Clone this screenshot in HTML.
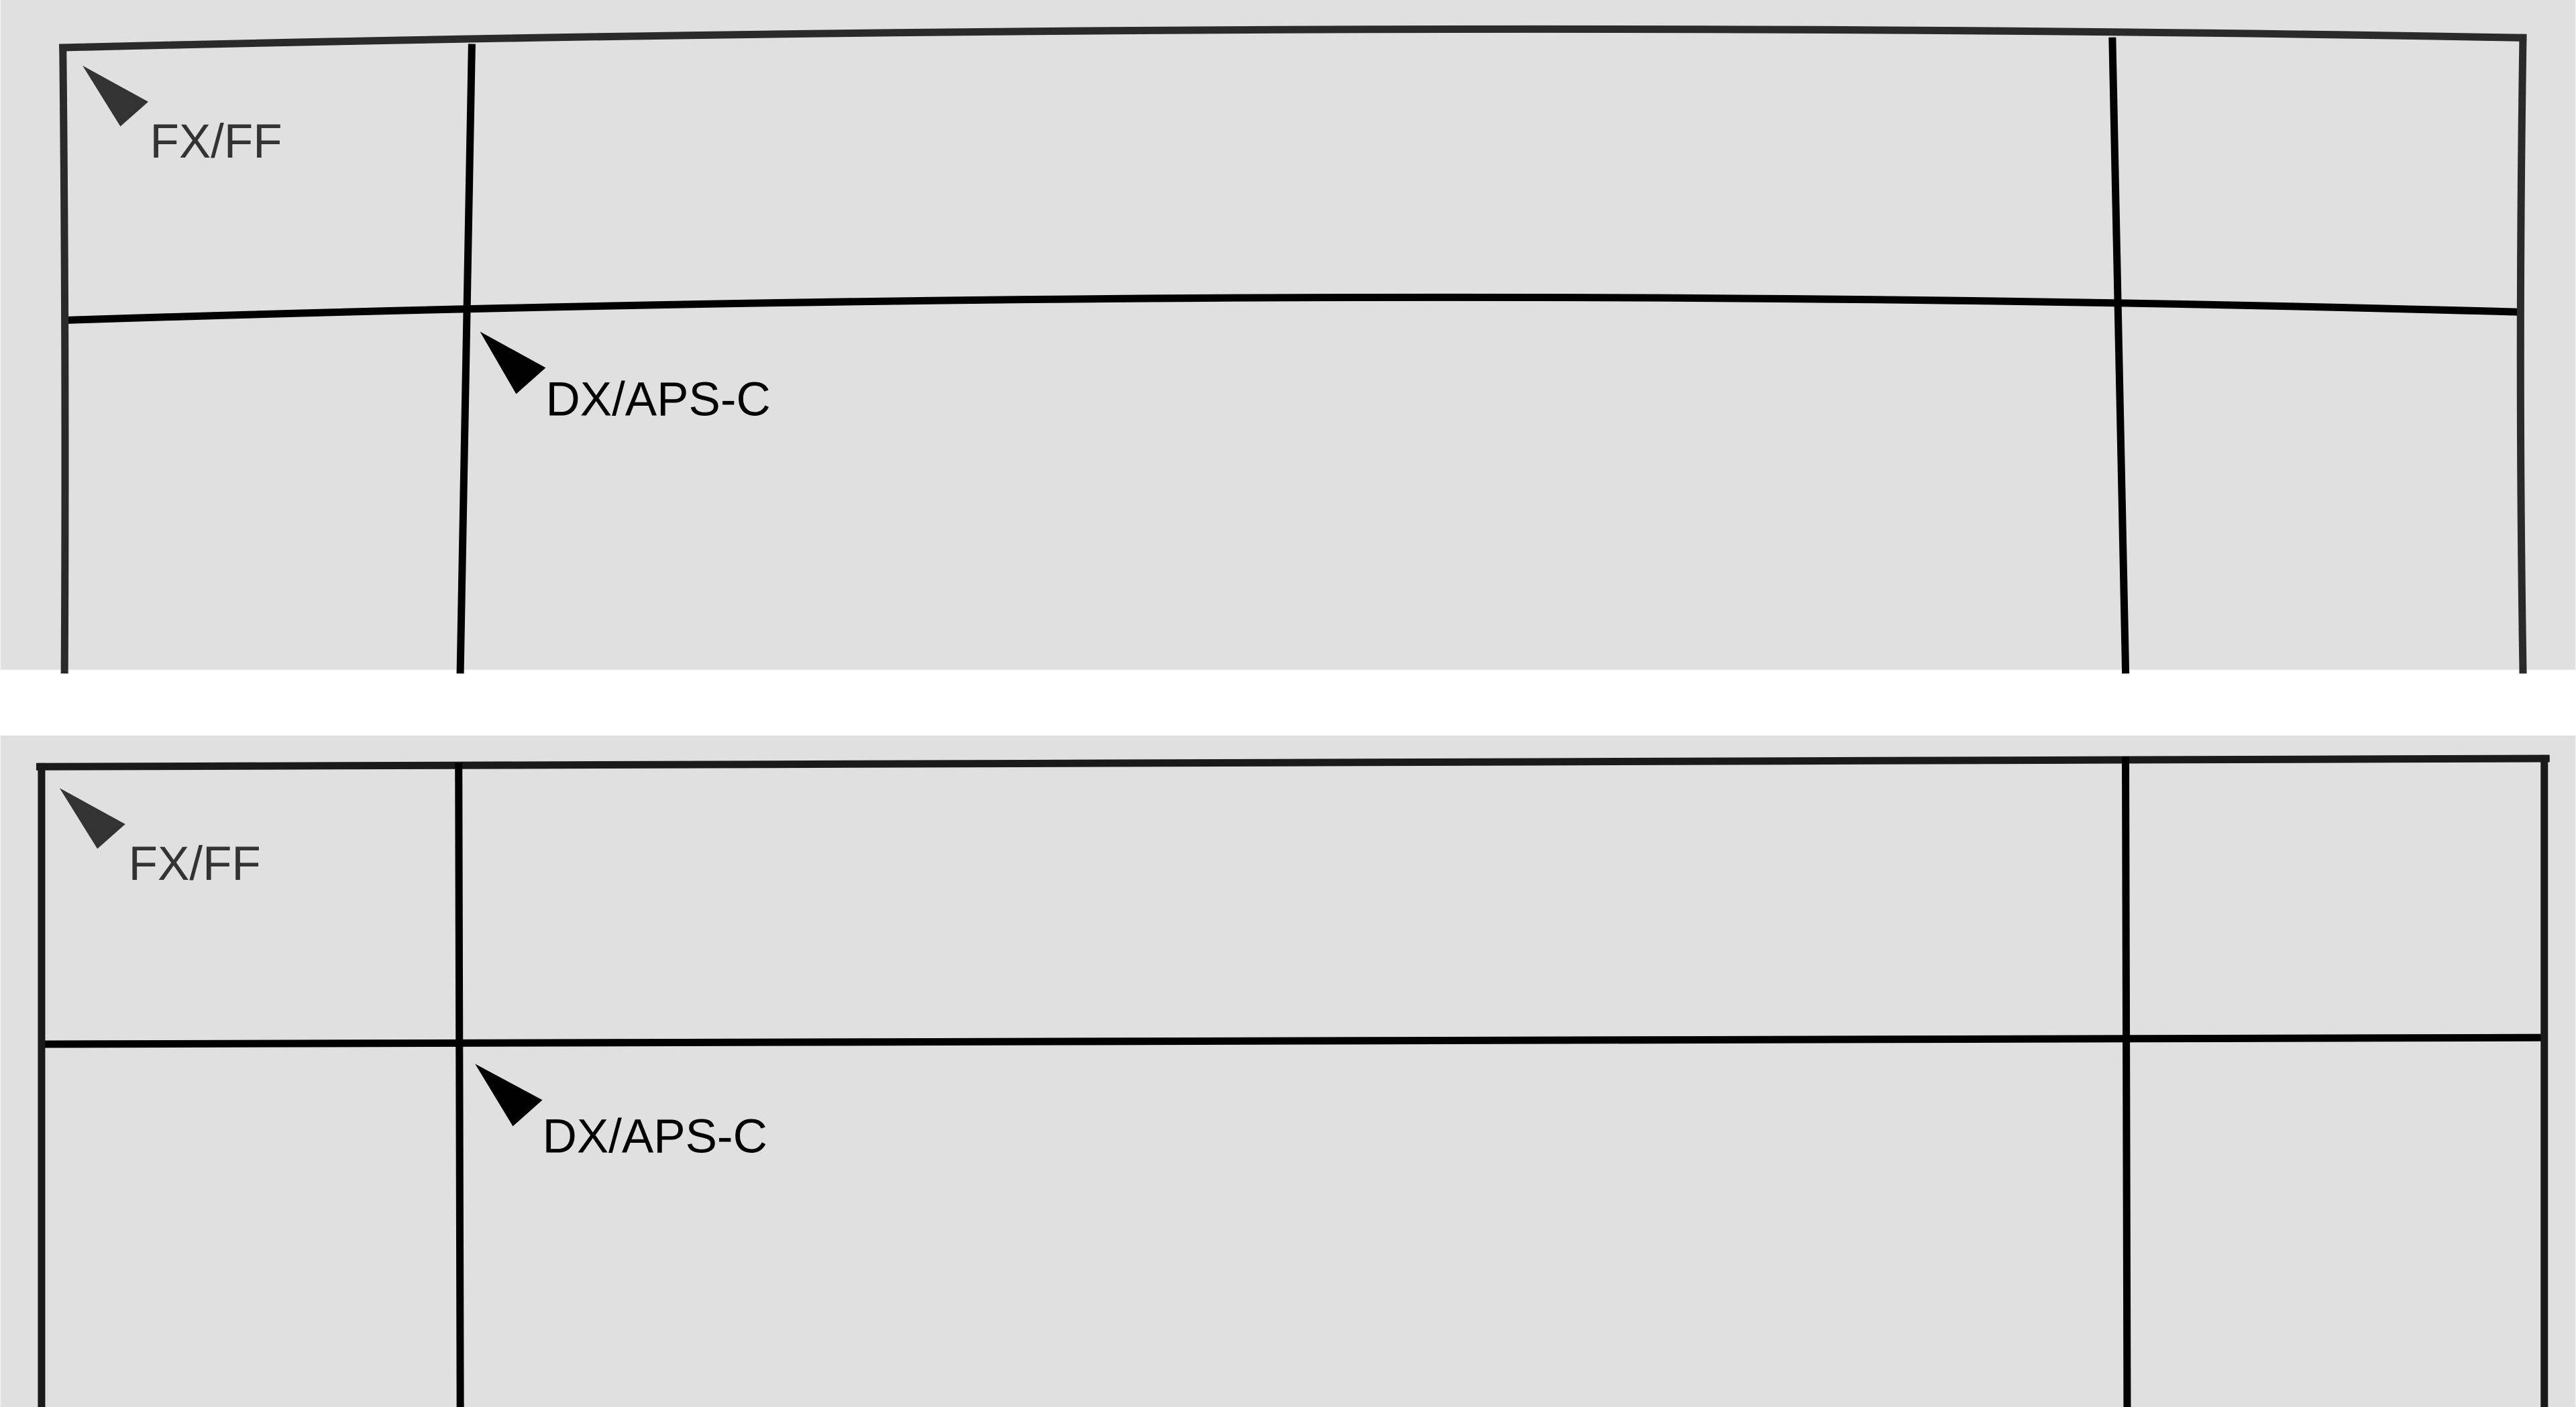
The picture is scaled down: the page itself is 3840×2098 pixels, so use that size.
<!DOCTYPE html>
<html>
<head>
<meta charset="utf-8">
<style>
html,body{margin:0;padding:0;background:#fff;}
svg{display:block;}
text{font-family:"Liberation Sans","DejaVu Sans",sans-serif;}
</style>
</head>
<body>
<svg width="3840" height="2098" viewBox="0 0 1568 857" xmlns="http://www.w3.org/2000/svg">
  <rect x="0" y="0" width="1568" height="408" fill="#e0e0e0"/>
  <rect x="0" y="408" width="1568" height="40" fill="#ffffff"/>
  <rect x="0" y="448" width="1568" height="409" fill="#e0e0e0"/>

  <!-- Top panel (distorted) -->
  <g fill="none" stroke-width="4.5" stroke-linecap="square">
    <path d="M38,29 Q810,10 1536,23" stroke="#2a2a2a"/>
    <path d="M41,195 Q810,170 1532,190" stroke="#000"/>
    <path d="M38,29 Q40,220 39,408" stroke="#2a2a2a"/>
    <path d="M287,29 L280,408" stroke="#000"/>
    <path d="M1286,25 L1294,408" stroke="#000"/>
    <path d="M1536,23 Q1533,220 1536,408" stroke="#2a2a2a"/>
  </g>
  <polygon points="50,40 90,62 73,77" fill="#333"/>
  <text x="91" y="96" font-size="29" fill="#333">FX/FF</text>
  <polygon points="292,202 332,224 314,240" fill="#000"/>
  <text x="332" y="253" font-size="29" fill="#000">DX/APS-C</text>

  <!-- Bottom panel (corrected) -->
  <g fill="none" stroke-width="4.5" stroke-linecap="square">
    <path d="M24,467 L1550,462" stroke="#1a1a1a"/>
    <path d="M27,636 L1548,632" stroke="#000"/>
    <path d="M25,467 L25,860" stroke="#1a1a1a"/>
    <path d="M279,467 L280,860" stroke="#000"/>
    <path d="M1294,463 L1295,860" stroke="#000"/>
    <path d="M1549,462 L1549,860" stroke="#1a1a1a"/>
  </g>
  <polygon points="36,480 76,502 59,517" fill="#333"/>
  <text x="78" y="536" font-size="29" fill="#333">FX/FF</text>
  <polygon points="289,648 330,670 312,686" fill="#000"/>
  <text x="330" y="702" font-size="29" fill="#000">DX/APS-C</text>
</svg>
</body>
</html>
